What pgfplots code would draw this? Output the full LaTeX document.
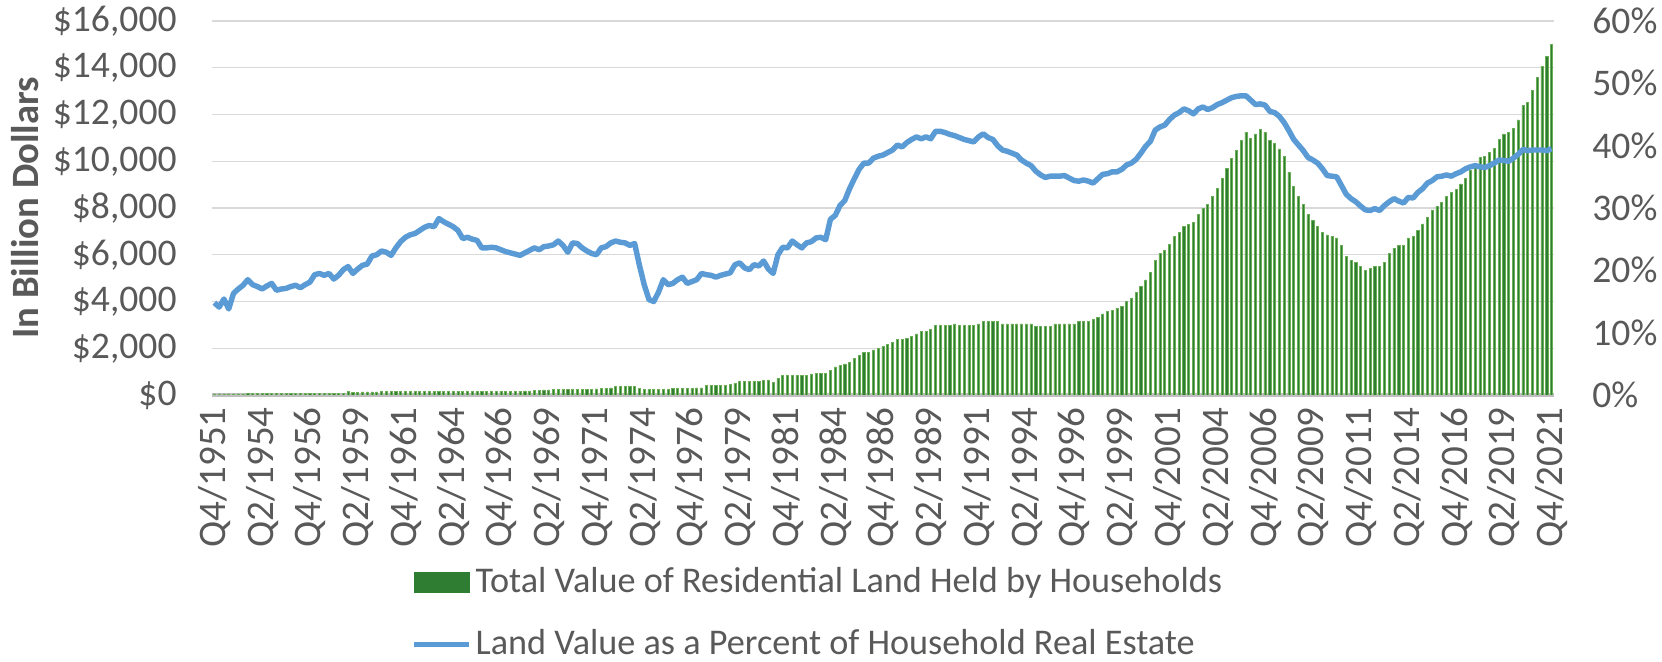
\documentclass[border=0pt]{standalone}
\usepackage{pgfplots}
\pgfplotsset{compat=1.18}
\usepackage{fontspec}
\setmainfont{Carlito}
\definecolor{txt}{HTML}{595959}
\definecolor{gridc}{HTML}{D9D9D9}
\definecolor{basec}{HTML}{BFBFBF}
\definecolor{barfill}{HTML}{2E7D32}
\definecolor{baredge}{HTML}{6AAE55}
\definecolor{lineblue}{HTML}{5B9BD5}

\begin{document}
\begin{tikzpicture}
\pgfplotsset{
  base/.style={
    width=134.2mm, height=37.4mm, scale only axis,
    xmin=-0.5, xmax=280.5,
    axis line style={draw=none},
    tick style={draw=none},
    /pgf/number format/assume math mode=true,
    tick label style={font=\fontsize{10.7}{12}\selectfont, text=txt},
  },
}
% left axis: land value, billion dollars
\begin{axis}[base, name=ax,
  ymin=0, ymax=16000, ytick={0,2000,...,16000},
  scaled y ticks=false,
  ymajorgrids, grid style={gridc, line width=0.4pt},
  extra y ticks={0}, extra y tick labels={},
  extra y tick style={grid style={basec, line width=0.9pt}},
  yticklabel={\$\pgfmathprintnumber[1000 sep={,}]{\tick}},
  yticklabel style={anchor=east, xshift=-2.3mm},
  xtick={0,10,...,280},
  xticklabels={Q4/1951,Q2/1954,Q4/1956,Q2/1959,Q4/1961,Q2/1964,Q4/1966,Q2/1969,
    Q4/1971,Q2/1974,Q4/1976,Q2/1979,Q4/1981,Q2/1984,Q4/1986,Q2/1989,Q4/1991,
    Q2/1994,Q4/1996,Q2/1999,Q4/2001,Q2/2004,Q4/2006,Q2/2009,Q4/2011,Q2/2014,
    Q4/2016,Q2/2019,Q4/2021},
  xticklabel style={rotate=90, anchor=east, font=\fontsize{11.1}{13}\selectfont},
  legend style={at={(0.148,-0.447)}, anchor=north west, draw=none, fill=none,
    font=\fontsize{10.3}{12}\selectfont, text=txt, row sep=2.4mm,
    inner sep=0pt, nodes={inner sep=0.4mm}},
  legend cell align=left,
]
\addplot[ybar, bar width=0.45, fill=barfill, draw=baredge, line width=0.2pt,
  legend image code/.code={\fill[barfill] (0mm,-1mm) rectangle (5.5mm,1mm);}]
coordinates {
(0,45) (1,45) (2,45) (3,45) (4,48) (5,48) (6,48) (7,50) (8,50) (9,50)
(10,50) (11,52) (12,52) (13,52) (14,54) (15,54) (16,55) (17,56) (18,57) (19,58)
(20,58) (21,60) (22,60) (23,62) (24,62) (25,62) (26,64) (27,65) (28,155) (29,120)
(30,125) (31,128) (32,130) (33,132) (34,134) (35,135) (36,136) (37,138) (38,140) (39,140)
(40,142) (41,142) (42,144) (43,145) (44,146) (45,147) (46,148) (47,148) (48,150) (49,150)
(50,150) (51,152) (52,152) (53,154) (54,154) (55,155) (56,155) (57,156) (58,158) (59,160)
(60,160) (61,162) (62,165) (63,168) (64,170) (65,172) (66,175) (67,210) (68,212) (69,215)
(70,218) (71,220) (72,222) (73,222) (74,224) (75,226) (76,228) (77,230) (78,232) (79,250)
(80,260) (81,270) (82,280) (83,300) (84,350) (85,355) (86,360) (87,360) (88,355) (89,270)
(90,235) (91,230) (92,230) (93,230) (94,235) (95,240) (96,285) (97,288) (98,290) (99,292)
(100,295) (101,300) (102,305) (103,400) (104,400) (105,405) (106,405) (107,410) (108,470) (109,500)
(110,570) (111,570) (112,575) (113,575) (114,580) (115,640) (116,645) (117,540) (118,710) (119,830)
(120,835) (121,835) (122,840) (123,840) (124,845) (125,900) (126,905) (127,905) (128,910) (129,1040)
(130,1200) (131,1250) (132,1330) (133,1400) (134,1570) (135,1680) (136,1830) (137,1830) (138,1930) (139,2010)
(140,2080) (141,2180) (142,2250) (143,2370) (144,2370) (145,2430) (146,2510) (147,2610) (148,2710) (149,2710)
(150,2800) (151,2970) (152,2970) (153,2970) (154,2970) (155,3040) (156,2970) (157,2970) (158,2970) (159,2970)
(160,3040) (161,3140) (162,3140) (163,3140) (164,3140) (165,3040) (166,3040) (167,3040) (168,3040) (169,3040)
(170,3040) (171,3040) (172,2940) (173,2940) (174,2940) (175,2940) (176,3040) (177,3040) (178,3040) (179,3040)
(180,3040) (181,3140) (182,3140) (183,3140) (184,3225) (185,3325) (186,3470) (187,3570) (188,3610) (189,3720)
(190,3800) (191,4000) (192,4150) (193,4400) (194,4650) (195,4920) (196,5250) (197,5750) (198,6040) (199,6180)
(200,6440) (201,6790) (202,6960) (203,7220) (204,7290) (205,7390) (206,7720) (207,7990) (208,8150) (209,8500)
(210,8850) (211,9280) (212,9700) (213,10130) (214,10460) (215,10890) (216,11250) (217,10990) (218,11170) (219,11350)
(220,11250) (221,10890) (222,10750) (223,10530) (224,10220) (225,9530) (226,8930) (227,8500) (228,8150) (229,7720)
(230,7460) (231,7220) (232,6960) (233,6850) (234,6790) (235,6720) (236,6390) (237,5940) (238,5750) (239,5680)
(240,5510) (241,5320) (242,5420) (243,5510) (244,5510) (245,5680) (246,6040) (247,6280) (248,6390) (249,6390)
(250,6720) (251,6790) (252,7040) (253,7320) (254,7580) (255,7920) (256,8080) (257,8250) (258,8500) (259,8680)
(260,8780) (261,9030) (262,9280) (263,9600) (264,9750) (265,10150) (266,10220) (267,10390) (268,10560) (269,10920)
(270,11170) (271,11250) (272,11420) (273,11770) (274,12390) (275,12530) (276,13030) (277,13570) (278,14070) (279,14500)
(280,15000)
};
\addlegendentry{Total Value of Residential Land Held by Households}
\addlegendimage{legend image code/.code={\draw[lineblue, line width=1.5pt] (0mm,0mm) -- (5.5mm,0mm);}}
\addlegendentry{Land Value as a Percent of Household Real Estate}
\end{axis}

% right axis: land share of real estate, percent
\begin{axis}[base, at={(ax.south west)}, anchor=south west,
  ymin=0, ymax=60, ytick={0,10,...,60},
  xtick=\empty,
  yticklabel pos=right,
  yticklabel={\pgfmathprintnumber{\tick}\%},
  yticklabel style={anchor=west, xshift=2.6mm},
]
\addplot[lineblue, line width=1.55pt, line join=round] coordinates {
(0,14.8) (1,14.1) (2,15.4) (3,13.8) (4,16.3) (5,17.0) (6,17.6) (7,18.5) (8,17.7) (9,17.4)
(10,17.0) (11,17.5) (12,17.9) (13,16.8) (14,17.0) (15,17.1) (16,17.4) (17,17.6) (18,17.2) (19,17.7)
(20,18.1) (21,19.3) (22,19.5) (23,19.2) (24,19.5) (25,18.6) (26,19.2) (27,20.1) (28,20.6) (29,19.5)
(30,20.2) (31,20.8) (32,21.0) (33,22.3) (34,22.5) (35,23.1) (36,22.9) (37,22.4) (38,23.6) (39,24.6)
(40,25.3) (41,25.7) (42,25.9) (43,26.4) (44,26.9) (45,27.2) (46,27.0) (47,28.3) (48,27.8) (49,27.4)
(50,27.0) (51,26.4) (52,25.1) (53,25.3) (54,25.0) (55,24.8) (56,23.6) (57,23.6) (58,23.7) (59,23.6)
(60,23.3) (61,23.0) (62,22.8) (63,22.6) (64,22.4) (65,22.8) (66,23.2) (67,23.6) (68,23.3) (69,23.8)
(70,23.9) (71,24.1) (72,24.7) (73,24.0) (74,22.9) (75,24.4) (76,24.3) (77,23.6) (78,23.1) (79,22.7)
(80,22.5) (81,23.6) (82,23.8) (83,24.4) (84,24.7) (85,24.5) (86,24.4) (87,24.0) (88,24.3) (89,20.8)
(90,17.7) (91,15.3) (92,15.0) (93,16.5) (94,18.5) (95,17.7) (96,17.9) (97,18.5) (98,18.9) (99,17.9)
(100,18.2) (101,18.5) (102,19.5) (103,19.3) (104,19.2) (105,18.9) (106,19.2) (107,19.4) (108,19.6) (109,20.9)
(110,21.2) (111,20.4) (112,20.1) (113,20.9) (114,20.7) (115,21.5) (116,20.2) (117,19.5) (118,22.5) (119,23.7)
(120,23.6) (121,24.7) (122,24.1) (123,23.6) (124,24.4) (125,24.6) (126,25.2) (127,25.3) (128,24.9) (129,28.2)
(130,28.8) (131,30.4) (132,31.2) (133,33.1) (134,34.7) (135,36.2) (136,37.2) (137,37.2) (138,38.0) (139,38.3)
(140,38.5) (141,38.9) (142,39.3) (143,40.1) (144,39.8) (145,40.5) (146,41.0) (147,41.4) (148,41.1) (149,41.4)
(150,41.1) (151,42.3) (152,42.3) (153,42.1) (154,41.8) (155,41.6) (156,41.3) (157,41.0) (158,40.8) (159,40.6)
(160,41.4) (161,41.9) (162,41.3) (163,41.0) (164,40.0) (165,39.3) (166,39.1) (167,38.8) (168,38.5) (169,37.7)
(170,37.2) (171,36.8) (172,35.9) (173,35.3) (174,34.9) (175,35.1) (176,35.1) (177,35.1) (178,35.2) (179,34.8)
(180,34.4) (181,34.3) (182,34.5) (183,34.3) (184,34.0) (185,34.7) (186,35.4) (187,35.5) (188,35.8) (189,35.8)
(190,36.2) (191,36.9) (192,37.2) (193,37.8) (194,38.8) (195,39.9) (196,40.7) (197,42.5) (198,43.0) (199,43.3)
(200,44.2) (201,44.9) (202,45.3) (203,45.9) (204,45.6) (205,45.1) (206,45.9) (207,46.2) (208,45.8) (209,46.1)
(210,46.6) (211,46.9) (212,47.3) (213,47.7) (214,47.9) (215,48.0) (216,48.0) (217,47.3) (218,46.6) (219,46.7)
(220,46.5) (221,45.5) (222,45.3) (223,44.7) (224,43.7) (225,42.4) (226,41.0) (227,40.1) (228,39.2) (229,38.1)
(230,37.7) (231,37.2) (232,36.3) (233,35.2) (234,35.1) (235,35.0) (236,33.6) (237,32.2) (238,31.5) (239,31.0)
(240,30.3) (241,29.7) (242,29.6) (243,29.9) (244,29.6) (245,30.4) (246,31.0) (247,31.5) (248,31.1) (249,30.8)
(250,31.7) (251,31.6) (252,32.5) (253,33.1) (254,34.0) (255,34.4) (256,35.0) (257,35.1) (258,35.3) (259,35.1)
(260,35.5) (261,35.8) (262,36.3) (263,36.6) (264,36.8) (265,36.6) (266,36.5) (267,36.8) (268,37.2) (269,37.7)
(270,37.6) (271,37.5) (272,38.0) (273,38.6) (274,39.4) (275,39.2) (276,39.3) (277,39.3) (278,39.3) (279,39.2)
(280,39.5)
};
\end{axis}

\node[rotate=90, anchor=center, text=txt, font=\fontsize{11}{13}\selectfont\bfseries]
  at ([xshift=-18.7mm]ax.west) {In Billion Dollars};

\pgfresetboundingbox
\path[use as bounding box] ([shift={(-21.2mm,-26.7mm)}]ax.south west)
  rectangle ([shift={(145.0mm,39.5mm)}]ax.south west);
\end{tikzpicture}
\end{document}
